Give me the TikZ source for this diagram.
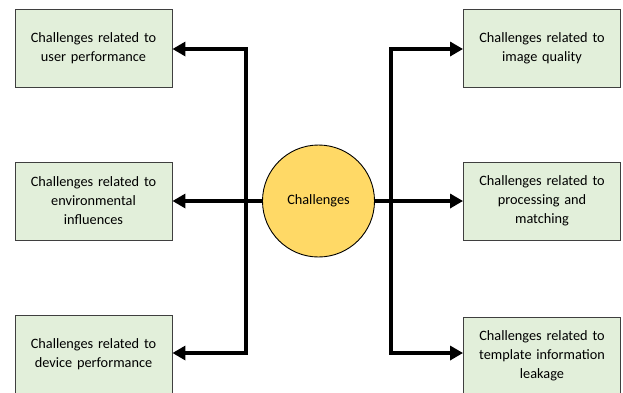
\documentclass[tikz,border=0pt]{standalone}
\usepackage{fontspec}
\setmainfont{Carlito}
\usetikzlibrary{arrows.meta}
\definecolor{boxfill}{HTML}{E2EFDA}
\definecolor{boxline}{HTML}{3F3F3F}
\definecolor{hubfill}{HTML}{FFD966}
\tikzset{
  topic/.style={draw=boxline, line width=0.9pt, fill=boxfill, minimum width=157pt,
    minimum height=78pt, inner sep=0pt, text width=150pt, align=center,
    font=\fontsize{14.3}{19}\selectfont},
  hub/.style={circle, draw=black, line width=0.9pt, fill=hubfill, minimum size=112pt,
    inner sep=0pt, font=\fontsize{14.3}{19}\selectfont},
  link/.style={line width=3.8pt, line join=miter, -{Triangle[length=13pt,width=14pt]}},
  link2/.style={line width=3.8pt, line join=miter,
    {Triangle[length=13pt,width=14pt]}-{Triangle[length=13pt,width=14pt]}}
}
\begin{document}
\begin{tikzpicture}[x=1pt,y=-1pt]
\clip (0,0) rectangle (623,392);
\useasboundingbox (0,0) rectangle (623,392);
% left column
\node[topic] (lt) at (93.5,48) {Challenges related to\\user performance};
\node[topic] (lm) at (93.5,201) {Challenges related to\\environmental\\influences};
\node[topic] (lb) at (93.5,354) {Challenges related to\\device performance};
% right column
\node[topic] (rt) at (542,48) {Challenges related to\\image quality};
\node[topic] (rm) at (542,201) {Challenges related to\\processing and\\matching};
\node[topic] (rb) at (542,356) {Challenges related to\\template information\\leakage};
% centre
\node[hub] (c) at (318.5,201) {Challenges};
% junction points on the two vertical bars
\coordinate (jl) at (246,201);
\coordinate (jr) at (391,201);
% connectors
\draw[link] (c.west) -- (lm.east);
\draw[link] (c.east) -- (rm.west);
\draw[link2] (lt.east |- 0,49) -| (jl) |- (lb.east |- 0,353);
\draw[link2] (rt.west |- 0,49) -| (jr) |- (rb.west |- 0,353);
\end{tikzpicture}
\end{document}
